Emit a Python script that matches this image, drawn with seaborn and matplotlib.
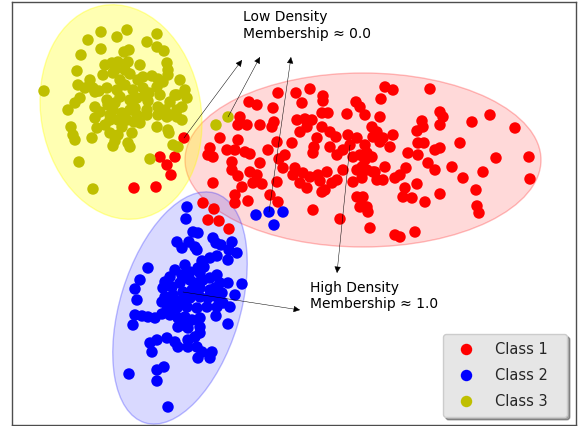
import matplotlib
matplotlib.use("Agg")
import matplotlib.pyplot as plt
from matplotlib.patches import Ellipse
from matplotlib.colors import to_rgba
import numpy as np
import pandas as pd
import seaborn as sns

sns.set_style("white")
plt.rcParams["font.family"] = ["DejaVu Sans"]

# Sample positions per class (screen-style coordinates: y grows downward)
class1_x = [184, 160, 175, 167, 171, 134, 156, 203, 214, 208, 219, 229, 235, 235, 248,
            310, 278, 296, 302, 323, 323, 249, 257, 273, 240, 238, 247, 260, 274, 272,
            297, 305, 312, 307, 300, 322, 328, 347, 356, 360, 365, 322, 330, 336, 348,
            357, 372, 373, 220, 238, 210, 208, 213, 227, 235, 245, 250, 277, 292, 268,
            285, 279, 317, 314, 313, 330, 337, 343, 350, 353, 360, 365, 372, 232, 232,
            238, 250, 260, 257, 253, 262, 283, 277, 295, 293, 303, 300, 310, 318, 320,
            327, 332, 337, 325, 322, 343, 353, 362, 357, 367, 373, 213, 242, 270, 278,
            313, 357, 360, 367, 340, 370, 307, 385, 393, 430, 381, 380, 440, 443, 440,
            422, 423, 417, 377, 383, 393, 472, 490, 515, 460, 418, 424, 380, 390, 365,
            367, 408, 418, 435, 440, 496, 529, 385, 375, 377, 383, 395, 400, 406, 428,
            435, 452, 483, 463, 530, 417, 405, 403, 412, 440, 425, 476, 477, 479, 363,
            365, 368, 395, 400, 415, 362]
class1_y = [138, 157, 157, 165, 175, 188, 187, 203, 209, 220, 221, 229, 195, 203, 201,
            89, 93, 93, 103, 96, 101, 102, 105, 108, 117, 125, 125, 125, 122, 127,
            120, 119, 120, 127, 132, 113, 113, 114, 102, 107, 115, 127, 132, 137, 135,
            138, 127, 137, 138, 140, 148, 155, 157, 150, 150, 152, 154, 142, 143, 150,
            155, 159, 138, 147, 153, 147, 155, 150, 145, 157, 155, 160, 157, 162, 170,
            176, 172, 163, 175, 183, 184, 168, 182, 168, 175, 173, 183, 177, 175, 181,
            172, 183, 180, 190, 192, 170, 182, 178, 170, 170, 172, 183, 187, 195, 202,
            210, 197, 207, 207, 219, 228, 188, 87, 90, 89, 99, 117, 112, 117, 125,
            121, 127, 131, 132, 138, 135, 122, 115, 128, 143, 143, 143, 142, 147, 145,
            153, 153, 155, 150, 148, 158, 157, 167, 172, 180, 180, 178, 175, 168, 163,
            170, 167, 172, 178, 179, 184, 188, 197, 198, 194, 202, 190, 206, 213, 197,
            207, 212, 235, 237, 232, 167]

class2_x = [187, 186, 193, 198, 177, 182, 189, 195, 197, 213, 216, 221, 232, 237, 229,
            228, 217, 210, 202, 204, 198, 200, 148, 140, 135, 137, 175, 185, 190, 182,
            170, 165, 163, 172, 180, 190, 197, 203, 210, 217, 220, 215, 210, 200, 192,
            183, 173, 165, 162, 172, 182, 190, 200, 208, 217, 223, 217, 207, 197, 187,
            177, 167, 216, 228, 242, 222, 235, 230, 228, 135, 133, 142, 148, 155, 162,
            170, 178, 185, 192, 200, 178, 183, 188, 200, 200, 195, 188, 150, 157, 167,
            175, 178, 188, 197, 152, 202, 212, 198, 210, 129, 157, 164, 157, 168, 256,
            269, 283, 274]
class2_y = [207, 219, 232, 233, 242, 248, 242, 247, 250, 238, 243, 245, 242, 253, 250,
            260, 256, 258, 261, 267, 268, 273, 268, 280, 289, 300, 270, 265, 272, 275,
            277, 282, 288, 287, 283, 280, 283, 280, 278, 275, 283, 288, 290, 288, 290,
            292, 295, 297, 302, 302, 300, 298, 297, 298, 297, 303, 307, 307, 308, 307,
            308, 310, 316, 283, 284, 293, 295, 307, 324, 315, 325, 316, 317, 318, 314,
            315, 318, 317, 320, 318, 327, 325, 328, 327, 333, 337, 340, 343, 340, 338,
            342, 347, 347, 347, 352, 352, 352, 358, 358, 374, 370, 367, 381, 407, 215,
            212, 212, 225]

class3_x = [101, 127, 88, 117, 157, 147, 157, 164, 101, 81, 124, 129, 167, 168, 77,
            105, 112, 118, 128, 140, 103, 113, 125, 130, 143, 152, 158, 163, 180, 78,
            85, 93, 99, 44, 107, 117, 125, 133, 143, 149, 157, 185, 177, 187, 80,
            75, 68, 95, 107, 115, 120, 130, 137, 148, 147, 158, 165, 170, 177, 182,
            113, 122, 130, 137, 110, 118, 127, 134, 140, 158, 167, 177, 182, 95, 105,
            97, 71, 73, 75, 92, 118, 115, 113, 132, 130, 169, 173, 178, 79, 150,
            93, 228, 216, 170, 175, 110, 135, 147, 110, 128, 157, 168, 95, 108, 168,
            138, 115, 122, 145, 120, 90, 160, 100]
class3_y = [32, 30, 40, 37, 34, 42, 47, 51, 49, 55, 52, 50, 63, 70, 71,
            65, 63, 62, 62, 65, 75, 73, 70, 74, 77, 76, 79, 82, 80, 85,
            88, 88, 91, 91, 88, 90, 85, 90, 88, 93, 87, 90, 95, 98, 98,
            103, 110, 107, 100, 103, 97, 100, 98, 101, 110, 107, 110, 115, 110, 107,
            110, 113, 110, 115, 120, 120, 120, 122, 123, 115, 117, 117, 120, 118, 125,
            128, 127, 135, 140, 138, 135, 141, 146, 133, 147, 133, 145, 147, 162, 159,
            189, 117, 125, 102, 95, 115, 108, 115, 133, 143, 127, 130, 92, 105, 75,
            80, 70, 127, 96, 80, 80, 95, 112]

class_names = ["Class 1", "Class 2", "Class 3"]
class_colors = ["r", "b", "y"]
region_colors = ["red", "blue", "yellow"]

df = pd.concat([
    pd.DataFrame({"x": class1_x, "y": class1_y, "label": class_names[0]}),
    pd.DataFrame({"x": class2_x, "y": class2_y, "label": class_names[1]}),
    pd.DataFrame({"x": class3_x, "y": class3_y, "label": class_names[2]}),
], ignore_index=True)

# Fitted cluster ellipses: centre, width, height, angle, face alpha, edge alpha
ellipse_specs = {
    "Class 1": ((363, 160), 356, 174, 0, 0.15, 0.25),
    "Class 2": ((180, 308), 120, 240, 17, 0.15, 0.25),
    "Class 3": ((121, 112), 160, 216, -10, 0.30, 0.35),
}

fig = plt.figure(figsize=(5.83, 4.26), dpi=100)
ax = fig.add_axes([12 / 583, 1 / 426, 564 / 583, 422.5 / 426])

for name, color in zip(class_names, region_colors):
    center, w, h, ang, fa, ea = ellipse_specs[name]
    ax.add_patch(Ellipse(center, w, h, angle=ang,
                         facecolor=to_rgba(color, fa),
                         edgecolor=to_rgba(color, ea), lw=1.0, zorder=1))

palette = dict(zip(class_names, class_colors))
sns.scatterplot(data=df, x="x", y="y", hue="label", palette=palette,
                s=68, linewidth=0, ax=ax, zorder=3)

ax.set_xlim(12, 576)
ax.set_ylim(425, 2.5)
ax.set_xticks([])
ax.set_yticks([])
ax.set_xlabel("")
ax.set_ylabel("")
for sp in ax.spines.values():
    sp.set_color("0.3")
    sp.set_linewidth(1.0)

# Annotations pointing from sample points to the labels
arrow_kw = dict(arrowstyle="-|>", color="k", lw=0.35, shrinkA=0, shrinkB=0,
                mutation_scale=10)
low_tails = [(184, 138), (228, 117), (269, 212)]
low_heads = [(242, 60), (260, 57), (291, 57)]
for tail, head in zip(low_tails, low_heads):
    ax.annotate("", xy=head, xytext=tail, arrowprops=arrow_kw, zorder=4)
high_tails = [(350, 145), (183, 292)]
high_heads = [(337, 273), (300, 310)]
for tail, head in zip(high_tails, high_heads):
    ax.annotate("", xy=head, xytext=tail, arrowprops=arrow_kw, zorder=4)

ax.text(243, 10.5, "Low Density\nMembership \u2248 0.0", ha="left", va="top",
        fontsize=10, color="k")
ax.text(310.5, 281, "High Density\nMembership \u2248 1.0", ha="left", va="top",
        fontsize=10, color="k")

handles, labels = ax.get_legend_handles_labels()
leg = ax.legend(handles, labels, loc="lower left", mode="expand",
                bbox_to_anchor=(443 / 583, 9 / 426, 124 / 583, 0.01),
                bbox_transform=fig.transFigure,
                borderaxespad=0, frameon=True, fancybox=True, shadow=True,
                facecolor="0.9", edgecolor="0.8", framealpha=1,
                fontsize=10.5, labelspacing=0.75, handlelength=2.0,
                handletextpad=1.0, borderpad=0.55)

fig.savefig("out.png", dpi=100)
